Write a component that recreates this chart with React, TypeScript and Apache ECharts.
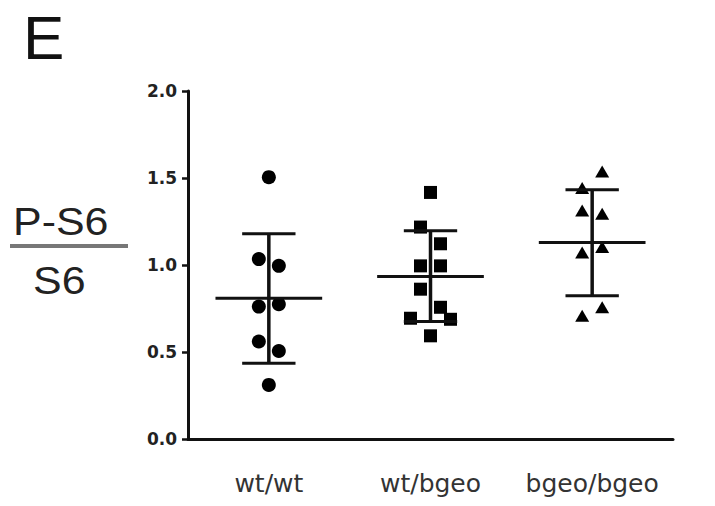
import React, { useEffect, useRef } from "react";
import * as echarts from "echarts";

const categories = ["wt/wt", "wt/bgeo", "bgeo/bgeo"];
const yTicks = [0, 0.5, 1.0, 1.5, 2.0];

// individual values per group
const wtwtValues = [1.505, 1.034, 0.995, 0.761, 0.775, 0.56, 0.506, 0.311];
const wtbgeoValues = [1.417, 1.218, 1.122, 0.995, 0.995, 0.861, 0.757, 0.694, 0.688, 0.593];
const bgeobgeoValues = [1.538, 1.442, 1.313, 1.294, 1.072, 1.103, 0.708, 0.757];

// horizontal scatter slots (left/right of centre) used to avoid overlap
const wtwtSlots = [0, -1, 1, -1, 1, -1, 1, 0];
const wtbgeoSlots = [0, -1, 1, -1, 1, -1, 1, -2, 2, 0];
const bgeobgeoSlots = [1, -1, -1, 1, -1, 1, -1, 1];

// summary statistics (mean ± SD)
const means = [0.809, 0.934, 1.129];
const sdLower = [0.435, 0.675, 0.823];
const sdUpper = [1.179, 1.197, 1.432];

const SLOT_PX = 10;

function makePoints(cat: number, values: number[], slots: number[]) {
  return values.map((v, i) => ({
    value: [cat, v],
    symbolOffset: [slots[i] * SLOT_PX, 0],
  }));
}

export default function App() {
  const ref = useRef<HTMLDivElement>(null);
  useEffect(() => {
    if (!ref.current) return;
    const chart = echarts.init(ref.current, null, { renderer: "svg" });
    const summary = categories.map((_, i) => [i, means[i], sdLower[i], sdUpper[i]]);
    const pointStyle = { color: "#000", opacity: 1 };
    const option: any = {
      animation: false,
      backgroundColor: "#ffffff",
      grid: { left: 188, top: 91, right: 42, bottom: 67, containLabel: false },
      xAxis: {
        type: "category",
        data: categories,
        boundaryGap: true,
        axisLine: { lineStyle: { color: "#111", width: 3 } },
        axisTick: { alignWithLabel: true, length: 8, lineStyle: { color: "#111", width: 2.5 } },
        axisLabel: {
          interval: 0,
          color: "#333",
          fontFamily: "DejaVu Sans",
          fontSize: 25,
          margin: 32,
        },
        splitLine: { show: false },
      },
      yAxis: {
        type: "value",
        min: yTicks[0],
        max: yTicks[yTicks.length - 1],
        interval: 0.5,
        axisLine: { show: true, lineStyle: { color: "#111", width: 3 } },
        axisTick: { show: true, length: 6, lineStyle: { color: "#111", width: 2.5 } },
        axisLabel: {
          color: "#222",
          fontFamily: "DejaVu Sans",
          fontWeight: "bold",
          fontSize: 17,
          margin: 11,
          formatter: (v: number) => v.toFixed(1),
        },
        splitLine: { show: false },
      },
      graphic: [
        {
          type: "text",
          x: 23,
          y: 6,
          style: { text: "E", font: "62px 'Liberation Sans'", fill: "#111" },
        },
        {
          type: "text",
          x: 13,
          y: 203,
          scaleX: 1.13,
          style: { text: "P-S6", font: "38px 'Liberation Sans'", fill: "#222" },
        },
        {
          type: "rect",
          shape: { x: 10, y: 244, width: 118, height: 4 },
          style: { fill: "#777" },
        },
        {
          type: "text",
          x: 33,
          y: 262,
          scaleX: 1.13,
          style: { text: "S6", font: "38px 'Liberation Sans'", fill: "#222" },
        },
      ],
      series: [
        {
          type: "scatter",
          symbol: "circle",
          symbolSize: 14,
          itemStyle: pointStyle,
          data: makePoints(0, wtwtValues, wtwtSlots),
          z: 2,
        },
        {
          type: "scatter",
          symbol: "rect",
          symbolSize: 13,
          itemStyle: pointStyle,
          data: makePoints(1, wtbgeoValues, wtbgeoSlots),
          z: 2,
        },
        {
          type: "scatter",
          symbol: "triangle",
          symbolSize: [14, 12],
          itemStyle: pointStyle,
          data: makePoints(2, bgeobgeoValues, bgeobgeoSlots),
          z: 2,
        },
        {
          type: "custom",
          z: 3,
          data: summary,
          renderItem: (params: any, api: any) => {
            const c = api.value(0);
            const m = api.coord([c, api.value(1)]);
            const lo = api.coord([c, api.value(2)]);
            const hi = api.coord([c, api.value(3)]);
            const band = api.size([1, 0])[0];
            const meanHalf = band * 0.33;
            const capHalf = band * 0.165;
            const style = { stroke: "#111", lineWidth: 3 };
            return {
              type: "group",
              children: [
                { type: "line", shape: { x1: m[0] - meanHalf, y1: m[1], x2: m[0] + meanHalf, y2: m[1] }, style },
                { type: "line", shape: { x1: m[0], y1: lo[1], x2: m[0], y2: hi[1] }, style: { stroke: "#111", lineWidth: 3.5 } },
                { type: "line", shape: { x1: m[0] - capHalf, y1: lo[1], x2: m[0] + capHalf, y2: lo[1] }, style },
                { type: "line", shape: { x1: m[0] - capHalf, y1: hi[1], x2: m[0] + capHalf, y2: hi[1] }, style },
              ],
            };
          },
        },
      ],
    };
    chart.setOption(option);
    return () => chart.dispose();
  }, []);
  return <div ref={ref} style={{ width: 715, height: 506, margin: -8 }} />;
}
